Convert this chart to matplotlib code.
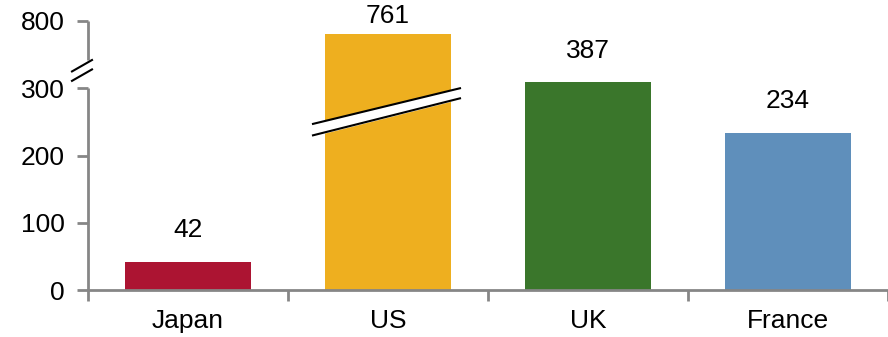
import matplotlib.pyplot as plt

plt.rcParams['font.family'] = ['Liberation Sans', 'DejaVu Sans']

countries = ["Japan", "US", "UK", "France"]
values = [42, 761, 387, 234]
# heights as drawn on the broken axis (above 300 the scale is squeezed)
drawn_heights = [42, 380, 309, 234]
colors = ["#AC1432", "#EEAF1F", "#3A762B", "#5F8FBB"]
ytick_pos = [0, 100, 200, 300, 400]
ytick_labels = ["0", "100", "200", "300", "800"]

grey = "#868686"
fs = 19

fig = plt.figure(figsize=(8.88, 3.37), dpi=100)
ax = fig.add_axes([88 / 888, 47 / 337, 800 / 888, 269 / 337])

x = list(range(len(countries)))
ax.bar(x, drawn_heights, width=0.63, color=colors, zorder=2)

for xi, h, v in zip(x, drawn_heights, values):
    # the tallest label sits closer to its bar so it fits in the figure
    off = 4.5 if h > 350 else 14
    ax.annotate(str(v), (xi, h), xytext=(0, off), textcoords="offset points",
                ha="center", va="bottom", fontsize=fs)

ax.set_xlim(-0.5, len(countries) - 0.5)
ax.set_ylim(0, 400)

# axis styling
for s in ["top", "right", "left"]:
    ax.spines[s].set_visible(False)
ax.spines["bottom"].set_color(grey)
ax.spines["bottom"].set_linewidth(2)

# left spine drawn in two pieces around the break
ax.plot([-0.5, -0.5], [0, 300], color=grey, lw=2, clip_on=False, solid_capstyle="butt")
ax.plot([-0.5, -0.5], [342, 400], color=grey, lw=2, clip_on=False, solid_capstyle="butt")
# break marks on the axis
for dy in (0, 14):
    ax.plot([-0.58, -0.48], [325 - dy, 342 - dy], color="black", lw=1.5, clip_on=False)

ax.set_yticks(ytick_pos)
ax.set_yticklabels(ytick_labels)
ax.tick_params(axis="y", length=8, width=2, color=grey, pad=9, labelsize=fs, direction="out")

ax.set_xticks(x)
ax.set_xticklabels(countries)
ax.tick_params(axis="x", which="major", length=0, pad=14, labelsize=fs)
ax.set_xticks([i - 0.5 for i in range(len(countries) + 1)], minor=True)
ax.tick_params(axis="x", which="minor", length=8, width=2, color=grey, direction="out")

# break band across the US bar
us = countries.index("US")
bx = [us - 0.375, us + 0.36]
y_low = [230, 285]
y_high = [247, 300]
ax.fill_between(bx, y_low, y_high, color="white", zorder=3)
ax.plot(bx, y_low, color="black", lw=1.5, zorder=4)
ax.plot(bx, y_high, color="black", lw=1.5, zorder=4)

fig.savefig("out.png", dpi=100)
